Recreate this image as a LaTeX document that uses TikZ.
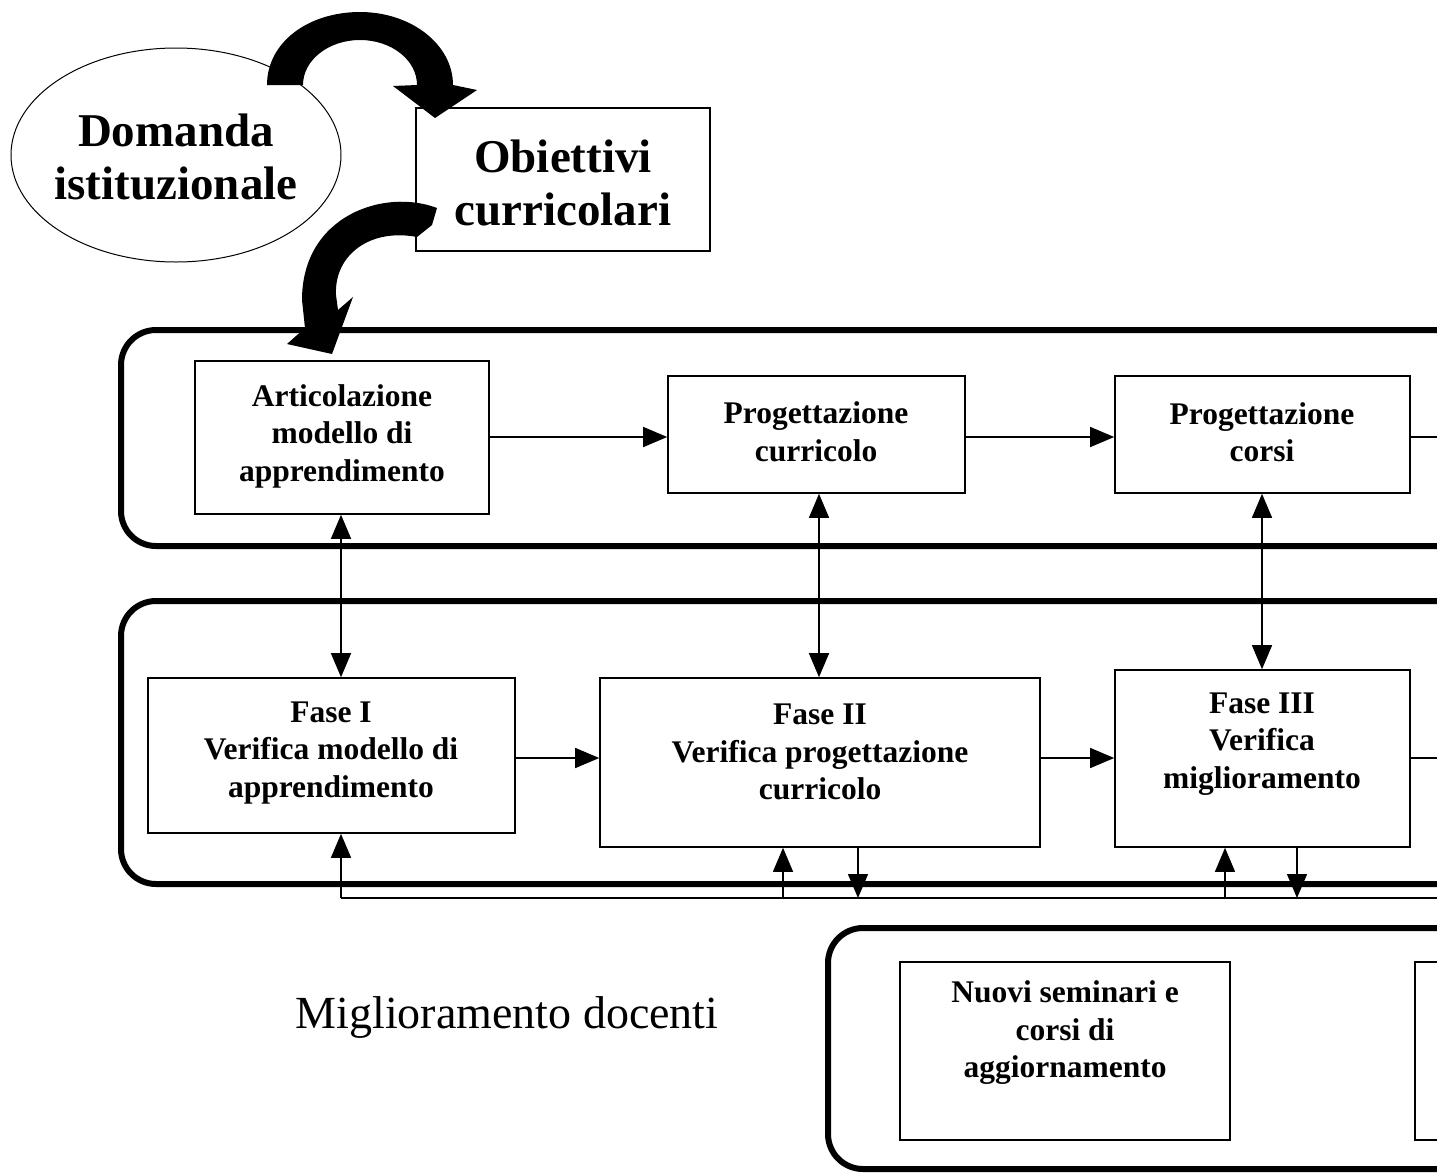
\documentclass[tikz,border=0pt]{standalone}
\usepackage{fontspec}
\setmainfont{Liberation Serif}
\usetikzlibrary{arrows.meta,shapes.geometric}
\begin{document}
\begin{tikzpicture}[x=1pt,y=-1pt,
  box/.style={draw, line width=1.6pt, inner sep=0pt},
  frame/.style={line width=6pt, rounded corners=35pt},
  conn/.style={line width=1.4pt},
  tip/.style={-{Triangle[length=24pt,width=20pt]}},
  dtip/.style={{Triangle[length=24pt,width=20pt]}-{Triangle[length=24pt,width=20pt]}},
  big/.style={align=center, font=\bfseries\fontsize{47}{53}\selectfont},
  txt/.style={align=center, font=\bfseries\fontsize{31.5}{37.5}\selectfont},
]
\useasboundingbox (0,0) rectangle (1437,1173);
\clip (0,0) rectangle (1437,1173);
\fill[white] (0,0) rectangle (1437,1173);

% top: demand and objectives
\node[draw, ellipse, line width=1pt, minimum width=330pt, minimum height=214pt] (dom) at (176,155) {};
\node[big] (domtxt) at (176,157) {Domanda\\istituzionale};
\node[box, minimum width=294pt, minimum height=143pt] (obi) at (563,179.5) {};
\node[big] (obitxt) at (563,183) {Obiettivi\\curricolari};

% frames
\draw[frame] (1500,330) -- (121,330) -- (121,546) -- (1500,546);
\draw[frame] (1500,601) -- (121,601) -- (121,884) -- (1500,884);
\draw[frame] (1500,928) -- (828,928) -- (828,1169) -- (1500,1169);

% curved block arrows
\fill (267,85) .. controls (267,42) and (308.6,12) .. (360,12)
  .. controls (411.4,12) and (453,44.7) .. (453,85) -- (477,90) -- (435,118)
  -- (393,86) -- (417,85) .. controls (417,60.1) and (391.5,40) .. (360,40)
  .. controls (328.5,40) and (303,60.1) .. (303,85) -- cycle;
\fill (437,208) .. controls (385,188) and (302,215) .. (302,300) -- (305,328)
  -- (287,344) -- (332,354) -- (353,297) -- (338,310) -- (336,295)
  .. controls (334,255) and (370,228) .. (417,237) -- (432,225) -- cycle;

% row 1
\node[box, minimum width=294pt, minimum height=153pt] (art) at (342,437.5) {};
\node[txt] (arttxt) at (342,436) {Articolazione\\modello di\\apprendimento};
\node[box, minimum width=297pt, minimum height=117pt] (pc) at (816.5,434.5) {};
\node[txt] (pctxt) at (816,432) {Progettazione\\curricolo};
\node[box, minimum width=295pt, minimum height=117pt] (pco) at (1262.5,434.5) {};
\node[txt] (pcotxt) at (1262,432) {Progettazione\\corsi};

% row 2
\node[box, minimum width=367pt, minimum height=155pt] (f1) at (331.5,755.5) {};
\node[txt] (f1txt) at (331,753) {Fase I\\Verifica modello di\\apprendimento};
\node[box, minimum width=440pt, minimum height=169pt] (f2) at (820,762.5) {};
\node[txt] (f2txt) at (820,752) {Fase II\\Verifica progettazione\\curricolo};
\node[box, minimum width=295pt, minimum height=177pt] (f3) at (1262.5,758.5) {};
\node[txt] (f3txt) at (1262,744) {Fase III\\Verifica\\miglioramento};

% row 3
\node[font=\fontsize{46}{52}\selectfont] (migl) at (507,1017) {Miglioramento docenti};
\node[box, minimum width=330pt, minimum height=178pt] (nuovi) at (1065,1051) {};
\node[txt] (nuovitxt) at (1065,1033) {Nuovi seminari e\\corsi di\\aggiornamento};
\node[box, minimum width=200pt, minimum height=178pt, anchor=west] (next) at (1414,1051) {};

% horizontal connectors
\coordinate (r1) at (1450,437);
\coordinate (r2) at (1450,758);
\draw[conn,tip] (art.east |- 0,437) -- (pc.west |- 0,437);
\draw[conn,tip] (pc.east |- 0,437) -- (pco.west |- 0,437);
\draw[conn] (pco.east |- r1) -- (r1);
\draw[conn,tip] (f1.east |- r2) -- (f2.west |- r2);
\draw[conn,tip] (f2.east |- r2) -- (f3.west |- r2);
\draw[conn] (f3.east |- r2) -- (r2);

% vertical double arrows
\draw[conn,dtip] (art.south -| 341,0) -- (f1.north -| 341,0);
\draw[conn,dtip] (pc.south -| 819,0) -- (f2.north -| 819,0);
\draw[conn,dtip] (pco.south -| 1262,0) -- (f3.north -| 1262,0);

% feedback line
\coordinate (bl) at (341,898);
\coordinate (br) at (1450,898);
\coordinate (u2) at (783,898);
\coordinate (d2) at (858,898);
\coordinate (u3) at (1225,898);
\coordinate (d3) at (1297,898);
\draw[conn] (br) -- (bl);
\draw[conn,tip] (bl) -- (f1.south -| bl);
\draw[conn,tip] (u2) -- (f2.south -| u2);
\draw[conn,tip] (f2.south -| d2) -- (d2);
\draw[conn,tip] (u3) -- (f3.south -| u3);
\draw[conn,tip] (f3.south -| d3) -- (d3);
\end{tikzpicture}
\end{document}
